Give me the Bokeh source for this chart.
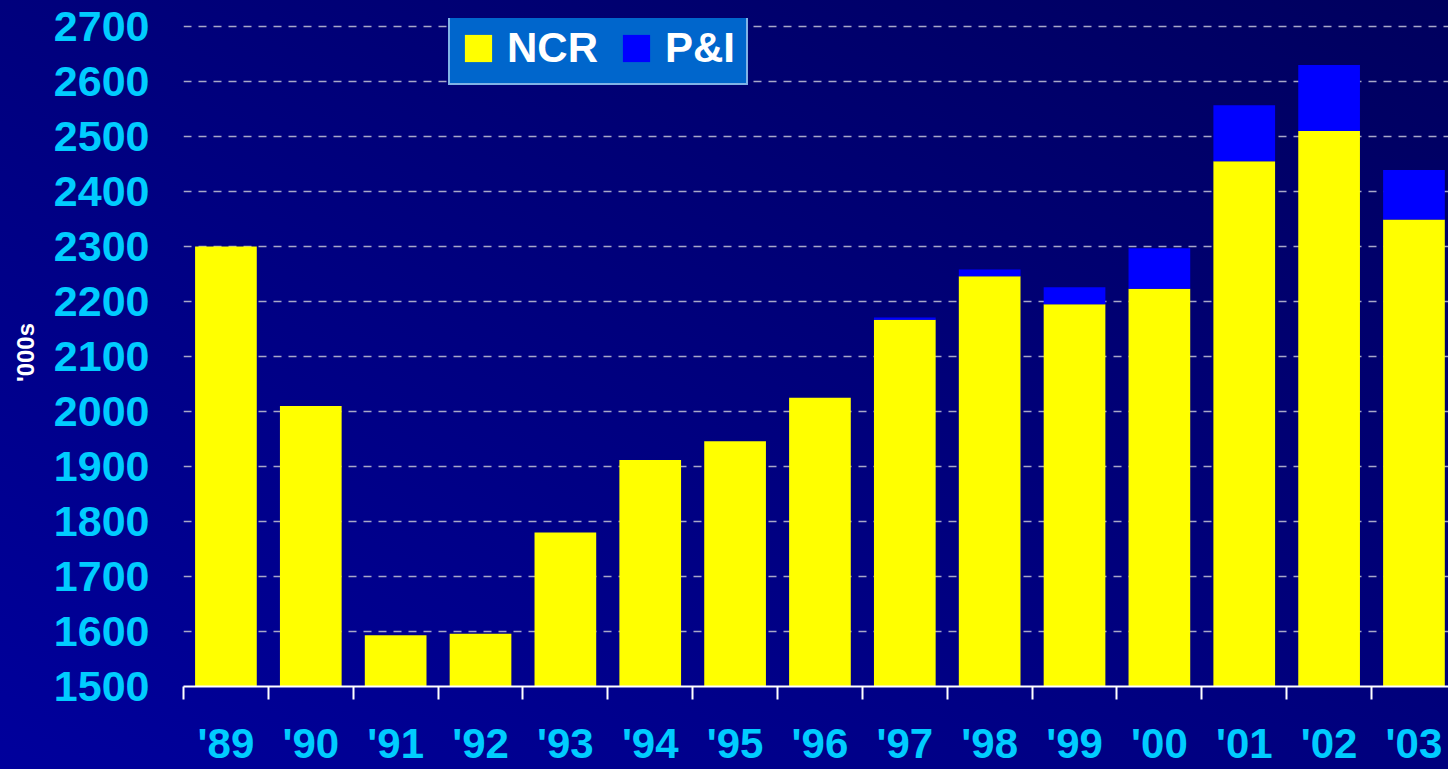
from bokeh.plotting import figure
from bokeh.models import Range1d, FixedTicker, InlineStyleSheet
from bokeh.embed import file_html
from bokeh.resources import INLINE

years = ["'89", "'90", "'91", "'92", "'93", "'94", "'95", "'96",
         "'97", "'98", "'99", "'00", "'01", "'02", "'03"]
ncr = [2300, 2010, 1593, 1596, 1780, 1912, 1946, 2025,
       2167, 2246, 2195, 2223, 2455, 2510, 2349]
pni = [0, 0, 0, 0, 0, 0, 0, 0,
       4, 12, 31, 74, 102, 120, 90]
y_ticks = list(range(1500, 2701, 100))

xs = [i + 0.5 for i in range(len(years))]
data = dict(x=xs, NCR=ncr, PNI=pni)

FONT = "Liberation Sans"
CYAN = "#00ccff"

p = figure(width=1448, height=769, output_backend="svg", toolbar_location=None,
           x_range=Range1d(0, 14.907), y_range=Range1d(1500, 2714.5),
           min_border_left=183, min_border_right=0, min_border_top=18,
           min_border_bottom=83)

p.stylesheets.append(InlineStyleSheet(
    css=":host { background: linear-gradient(to top right, #00009c, #00005e); }"))
p.background_fill_alpha = 0
p.border_fill_alpha = 0
p.outline_line_color = None

p.vbar_stack(["NCR", "PNI"], x="x", width=0.727, source=data,
             color=["#ffff00", "#0000ff"], line_color=None,
             legend_label=["NCR", "P&I"])

# grid
p.xgrid.visible = False
p.ygrid.ticker = FixedTicker(ticks=y_ticks[1:])
p.ygrid.grid_line_color = "#a8a8c8"
p.ygrid.grid_line_width = 1.5
p.ygrid.grid_line_dash = "8 7"

# y axis
p.yaxis.ticker = FixedTicker(ticks=y_ticks)
p.yaxis.axis_line_color = None
p.yaxis.major_tick_line_color = None
p.yaxis.minor_tick_line_color = None
p.yaxis.major_tick_out = 0
p.yaxis.major_tick_in = 0
p.yaxis.major_label_standoff = 34
p.yaxis.major_label_text_font = FONT
p.yaxis.major_label_text_font_style = "bold"
p.yaxis.major_label_text_font_size = "43px"
p.yaxis.major_label_text_color = CYAN
p.yaxis.axis_label = "'000s"
p.yaxis.axis_label_text_font = FONT
p.yaxis.axis_label_text_font_style = "bold"
p.yaxis.axis_label_text_font_size = "24px"
p.yaxis.axis_label_text_color = "white"
p.yaxis.axis_label_standoff = 12

# x axis
p.xaxis.ticker = FixedTicker(ticks=xs, minor_ticks=list(range(len(years) + 1)))
p.xaxis.major_label_overrides = {x: y for x, y in zip(xs, years)}
p.xaxis.axis_line_color = "white"
p.xaxis.axis_line_width = 2
p.xaxis.major_tick_line_color = None
p.xaxis.major_tick_out = 0
p.xaxis.major_tick_in = 0
p.xaxis.minor_tick_line_color = "white"
p.xaxis.minor_tick_line_width = 2
p.xaxis.minor_tick_out = 13
p.xaxis.minor_tick_in = 0
p.xaxis.major_label_standoff = 20
p.xaxis.major_label_text_font = FONT
p.xaxis.major_label_text_font_style = "bold"
p.xaxis.major_label_text_font_size = "42px"
p.xaxis.major_label_text_color = CYAN

# legend
lg = p.legend[0]
lg.location = (265, 601)
lg.orientation = "horizontal"
lg.background_fill_color = "#0066cc"
lg.background_fill_alpha = 1
lg.border_line_color = "white"
lg.border_line_width = 2
lg.padding = 11
lg.spacing = 21
lg.margin = 0
lg.glyph_width = 34
lg.glyph_height = 34
lg.label_standoff = 12
lg.label_text_font = FONT
lg.label_text_font_style = "bold"
lg.label_text_font_size = "42px"
lg.label_text_color = "white"
lg.label_text_line_height = 1.07

open("out.html", "w").write(file_html(p, INLINE))
